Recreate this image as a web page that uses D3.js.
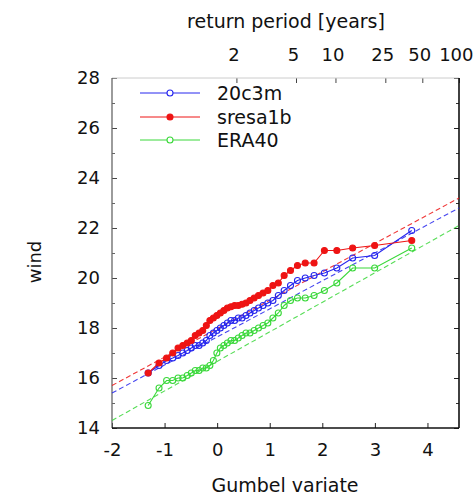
<!DOCTYPE html>
<html>
<head>
<meta charset="utf-8">
<script src="https://cdn.jsdelivr.net/npm/d3@7"></script>
<style>
  html, body { margin: 0; padding: 0; background: #fff; }
  svg { display: block; }
  text { font-family: "DejaVu Sans", sans-serif; fill: #111; }
</style>
</head>
<body>
<svg id="chart" width="474" height="500"></svg>
<script>
// Annual maxima of wind, sorted ascending (one value per rank)
const series20c3m = [16.2, 16.5, 16.7, 16.8, 16.9, 17.0, 17.1, 17.2, 17.3, 17.3,
                     17.4, 17.5, 17.7, 17.8, 17.9, 18.0, 18.1, 18.2, 18.3, 18.3,
                     18.4, 18.4, 18.5, 18.6, 18.7, 18.8, 18.9, 19.0, 19.1, 19.3,
                     19.5, 19.7, 19.9, 20.0, 20.1, 20.2, 20.4, 20.8, 20.9, 21.9];
const seriesSresa1b = [16.2, 16.6, 16.8, 17.0, 17.2, 17.3, 17.4, 17.5, 17.7, 17.8,
                       17.9, 18.1, 18.3, 18.4, 18.5, 18.6, 18.7, 18.8, 18.85, 18.9,
                       18.9, 18.95, 19.0, 19.1, 19.2, 19.3, 19.4, 19.5, 19.7, 19.8,
                       20.1, 20.3, 20.5, 20.6, 20.6, 21.1, 21.1, 21.2, 21.3, 21.5];
const seriesEra40 = [14.9, 15.6, 15.9, 15.9, 16.0, 16.0, 16.1, 16.2, 16.3, 16.3,
                     16.4, 16.4, 16.5, 16.7, 17.0, 17.2, 17.3, 17.4, 17.5, 17.5,
                     17.6, 17.7, 17.8, 17.8, 17.9, 18.0, 18.1, 18.2, 18.4, 18.6,
                     18.9, 19.1, 19.2, 19.2, 19.3, 19.5, 19.8, 20.4, 20.4, 21.2];

// Fitted Gumbel lines: wind value at the two ends of the variate axis
const fitEnds = [-2, 4.6];
const fit20c3m = [15.4, 22.8];
const fitSresa1b = [15.7, 23.2];
const fitEra40 = [14.3, 22.1];

const seriesNames = ["20c3m", "sresa1b", "ERA40"];
const seriesColors = ["#2626ee", "#ee1414", "#3ad83a"];
const seriesFilled = [false, true, false];

const xTicks = [-2, -1, 0, 1, 2, 3, 4];
const yMajorTicks = [14, 16, 18, 20, 22, 24, 26, 28];
const yMinorTicks = [15, 17, 19, 21, 23, 25, 27];
const returnPeriods = [2, 5, 10, 25, 50, 100];

const svg = d3.select("#chart");
const plotLeft = 112, plotRight = 459, plotTop = 78, plotBottom = 428;

const x = d3.scaleLinear().domain([-2, 4.6]).range([plotLeft, plotRight]);
const y = d3.scaleLinear().domain([14, 28]).range([plotBottom, plotTop]);

// Gumbel reduced variate of a return period and of a plotting rank
const gumbelOfT = T => -Math.log(-Math.log(1 - 1 / T));
const gumbelOfRank = (i, n) => -Math.log(-Math.log((i + 1) / (n + 1)));

const fontSize = 18;
const plainNumber = d => String(d);   // hyphen-minus, as in "-2"

// Bottom axis
const gx = svg.append("g").attr("transform", `translate(0,${plotBottom})`)
  .call(d3.axisBottom(x).tickValues(xTicks).tickSize(-5).tickPadding(15).tickFormat(plainNumber));
gx.select(".domain").remove();
gx.selectAll("line").attr("stroke", "#222");
gx.selectAll("text").attr("font-size", fontSize).attr("font-family", "DejaVu Sans").attr("fill", "#111");

// Top axis with return periods
const gt = svg.append("g").attr("transform", `translate(0,${plotTop})`)
  .call(d3.axisTop(x).tickValues(returnPeriods.map(gumbelOfT)).tickSize(-5).tickPadding(17)
    .tickFormat((d, i) => String(returnPeriods[i])));
gt.select(".domain").remove();
gt.selectAll("line").attr("stroke", "#444");
gt.selectAll("text").attr("font-size", fontSize).attr("font-family", "DejaVu Sans").attr("fill", "#111")
  .attr("dx", -3);
// keep the last label inside the page
gt.selectAll(".tick").filter((d, i, n) => i === n.length - 1).select("text")
  .attr("text-anchor", "end").attr("dx", 14);

// Left axis (major and minor)
const gy = svg.append("g").attr("transform", `translate(${plotLeft},0)`)
  .call(d3.axisLeft(y).tickValues(yMajorTicks).tickSize(-5).tickPadding(12).tickFormat(plainNumber));
gy.select(".domain").remove();
gy.selectAll("line").attr("stroke", "#444");
gy.selectAll("text").attr("font-size", fontSize).attr("font-family", "DejaVu Sans").attr("fill", "#111");
const gym = svg.append("g").attr("transform", `translate(${plotLeft},0)`)
  .call(d3.axisLeft(y).tickValues(yMinorTicks).tickSize(-3).tickFormat(""));
gym.select(".domain").remove();
gym.selectAll("line").attr("stroke", "#666");

// Right axis mirror ticks
const gr = svg.append("g").attr("transform", `translate(${plotRight},0)`)
  .call(d3.axisRight(y).tickValues(yMajorTicks).tickSize(-5).tickFormat(""));
gr.select(".domain").remove();
gr.selectAll("line").attr("stroke", "#222");
const grm = svg.append("g").attr("transform", `translate(${plotRight},0)`)
  .call(d3.axisRight(y).tickValues(yMinorTicks).tickSize(-3).tickFormat(""));
grm.select(".domain").remove();
grm.selectAll("line").attr("stroke", "#333");

// Frame
svg.append("line").attr("x1", plotLeft).attr("x2", plotRight).attr("y1", plotTop).attr("y2", plotTop)
  .attr("stroke", "#ccc").attr("stroke-width", 1);
svg.append("line").attr("x1", plotLeft).attr("x2", plotLeft).attr("y1", plotTop).attr("y2", plotBottom)
  .attr("stroke", "#666").attr("stroke-width", 1.3);
svg.append("line").attr("x1", plotRight).attr("x2", plotRight).attr("y1", plotTop).attr("y2", plotBottom)
  .attr("stroke", "#111").attr("stroke-width", 1.6);
svg.append("line").attr("x1", plotLeft).attr("x2", plotRight).attr("y1", plotBottom).attr("y2", plotBottom)
  .attr("stroke", "#111").attr("stroke-width", 1.6);

// Plot area
const plot = svg.append("g");
const allSeries = [series20c3m, seriesSresa1b, seriesEra40];
const allFits = [fit20c3m, fitSresa1b, fitEra40];

// Fitted dashed lines
allFits.forEach((f, k) => {
  plot.append("line")
    .attr("x1", x(fitEnds[0])).attr("y1", y(f[0]))
    .attr("x2", x(fitEnds[1])).attr("y2", y(f[1]))
    .attr("stroke", seriesColors[k]).attr("stroke-width", 1.1)
    .attr("stroke-dasharray", "5,3").attr("opacity", 0.85);
});

// Empirical quantiles: line + markers (ERA40 first so the others sit on top)
const line = d3.line().x(d => x(d[0])).y(d => y(d[1]));
[2, 0, 1].forEach(k => {
  const vals = allSeries[k];
  const pts = vals.map((v, i) => [gumbelOfRank(i, vals.length), v]);
  plot.append("path").datum(pts).attr("d", line)
    .attr("fill", "none").attr("stroke", seriesColors[k]).attr("stroke-width", 1.1);
  plot.selectAll(null).data(pts).enter().append("circle")
    .attr("cx", d => x(d[0])).attr("cy", d => y(d[1]))
    .attr("r", 3)
    .attr("fill", seriesFilled[k] ? seriesColors[k] : "none")
    .attr("stroke", seriesColors[k]).attr("stroke-width", 1.1);
});

// Legend
const legendRows = [93, 117, 140];
seriesNames.forEach((name, k) => {
  const g = svg.append("g").attr("transform", `translate(0,${legendRows[k]})`);
  g.append("line").attr("x1", 140).attr("x2", 200).attr("y1", 0).attr("y2", 0)
    .attr("stroke", seriesColors[k]).attr("stroke-width", 1);
  g.append("circle").attr("cx", 170).attr("cy", 0).attr("r", 3)
    .attr("fill", seriesFilled[k] ? seriesColors[k] : "#fff")
    .attr("stroke", seriesColors[k]).attr("stroke-width", 1.1);
  g.append("text").attr("x", 217).attr("y", 0).attr("dy", "0.36em")
    .attr("font-size", 19).text(name);
});

// Axis titles
svg.append("text").attr("x", 286).attr("y", 28).attr("text-anchor", "middle")
  .attr("font-size", 19).text("return period [years]");
svg.append("text").attr("x", 285).attr("y", 492).attr("text-anchor", "middle")
  .attr("font-size", 19).text("Gumbel variate");
svg.append("text").attr("transform", "translate(41,262) rotate(-90)")
  .attr("text-anchor", "middle").attr("font-size", 18).text("wind");
</script>
</body>
</html>
